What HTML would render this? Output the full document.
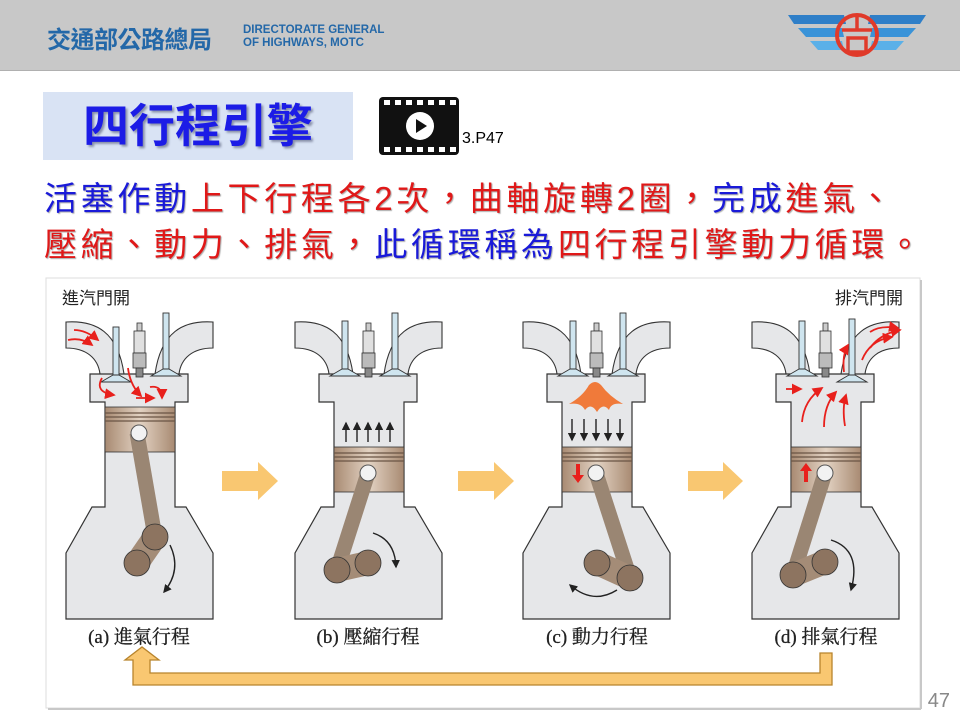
<!DOCTYPE html>
<html><head><meta charset="utf-8"><style>
body{margin:0;width:960px;height:720px;background:#fff;position:relative;overflow:hidden;font-family:"Liberation Sans","Noto Sans CJK TC",sans-serif}
.hdr{position:absolute;left:0;top:0;width:960px;height:70px;background:#c8c8c8;border-bottom:1px solid #b0b0b0}
.t{position:absolute;white-space:nowrap}
</style></head><body>
<div class="hdr"></div>
<div class="t" style="left:47px;top:20px;font-size:24px;font-weight:bold;color:#2468a8;letter-spacing:-0.5px">交通部公路總局</div>
<div class="t" style="left:243px;top:24px;font-size:11.5px;font-weight:bold;color:#2468a8;line-height:13px">DIRECTORATE GENERAL<br>OF HIGHWAYS, MOTC</div>
<svg style="position:absolute;left:780px;top:8px" width="160" height="60">
<g><polygon points="8,7 64,7 66,16 14,16" fill="#2f7fc8"/><polygon points="146,7 90,7 88,16 140,16" fill="#2f7fc8"/>
<polygon points="18,20 62,20 64,29 26,29" fill="#3a93d8"/><polygon points="136,20 92,20 90,29 128,29" fill="#3a93d8"/>
<polygon points="30,33 62,33 64,42 38,42" fill="#5ab0e8"/><polygon points="124,33 92,33 90,42 116,42" fill="#5ab0e8"/></g>
<circle cx="77" cy="27" r="20" fill="none" stroke="#e03a2a" stroke-width="4"/>
<path d="M62,22 H92 M77,8 V22 M68,30 H86 V44 H68 Z" stroke="#e03a2a" stroke-width="3.5" fill="none"/>
</svg>
<div class="t" style="left:43px;top:92px;width:310px;height:68px;background:#d9e3f4"></div>
<div class="t" style="left:43px;top:96px;width:310px;text-align:center;font-size:46px;font-weight:bold;color:#1c1ce6;text-shadow:2px 2px 2px #8890a8;line-height:60px">四行程引擎</div>
<svg style="position:absolute;left:379px;top:97px" width="82" height="60">
<rect x="0" y="0" width="80" height="58" rx="4" fill="#111"/>
<g fill="#fff"><rect x="5" y="3" width="6" height="5"/><rect x="16" y="3" width="6" height="5"/><rect x="27" y="3" width="6" height="5"/><rect x="38" y="3" width="6" height="5"/><rect x="49" y="3" width="6" height="5"/><rect x="60" y="3" width="6" height="5"/><rect x="71" y="3" width="6" height="5"/>
<rect x="5" y="50" width="6" height="5"/><rect x="16" y="50" width="6" height="5"/><rect x="27" y="50" width="6" height="5"/><rect x="38" y="50" width="6" height="5"/><rect x="49" y="50" width="6" height="5"/><rect x="60" y="50" width="6" height="5"/><rect x="71" y="50" width="6" height="5"/></g>
<circle cx="41" cy="29" r="14" fill="#fff"/><polygon points="37,22 37,36 48,29" fill="#111"/>
</svg>
<div class="t" style="left:462px;top:130px;font-size:16px;color:#000">3.P47</div>
<div class="t" style="left:44px;top:176px;font-size:33px;letter-spacing:3.7px;line-height:46px;text-shadow:1px 1px 1px #aaa">
<span style="color:#1a1ad8">活塞作動</span><span style="color:#e01818">上下行程各2次，曲軸旋轉2圈，</span><span style="color:#1a1ad8">完成</span><span style="color:#e01818">進氣、</span><br>
<span style="color:#e01818">壓縮、動力、排氣，</span><span style="color:#1a1ad8">此循環稱為</span><span style="color:#e01818">四行程引擎動力循環。</span></div>

<svg style="position:absolute;left:0;top:0" width="960" height="720">
<defs>
<linearGradient id="pg" x1="0" x2="1"><stop offset="0" stop-color="#a88a72"/><stop offset="0.5" stop-color="#e2d2c2"/><stop offset="1" stop-color="#a88a72"/></linearGradient>
<marker id="ab" markerWidth="6" markerHeight="6" refX="5" refY="3" orient="auto"><path d="M0,0 L6,3 L0,6 Z" fill="#222"/></marker>
<marker id="ar" markerWidth="6" markerHeight="6" refX="5" refY="3" orient="auto"><path d="M0,0 L6,3 L0,6 Z" fill="#e8201c"/></marker>
<g id="eng">
<path d="M0,322 C30,320 52,332 58,374 L34,374 C32,358 20,348 0,348 Z" fill="#e6e7e9" stroke="#333" stroke-width="1.1"/>
<path d="M147,322 C117,320 95,332 89,374 L113,374 C115,358 127,348 147,348 Z" fill="#e6e7e9" stroke="#333" stroke-width="1.1"/>
<path d="M24,374 H122 V402 H109 V507 H120 L147,553 V619 H0 V553 L26,507 H39 V402 H24 Z" fill="#e6e7e9" stroke="#333" stroke-width="1.2"/>
<rect x="71" y="323" width="5" height="8" fill="#ccc" stroke="#333" stroke-width="0.8"/>
<rect x="68" y="331" width="11" height="22" fill="#e0e0e0" stroke="#333" stroke-width="0.8"/>
<rect x="67" y="353" width="13" height="15" fill="#bbb" stroke="#333" stroke-width="0.8"/>
<rect x="70" y="368" width="7" height="9" fill="#888" stroke="#333" stroke-width="0.8"/>
</g>
<g id="vl"><rect x="47" y="321" width="6" height="50" fill="#cfe5ef" stroke="#333" stroke-width="0.9"/><path d="M47,369 L35,376 H65 L53,369 Z" fill="#cfe5ef" stroke="#333" stroke-width="0.9"/></g>
<g id="vr"><rect x="97" y="313" width="6" height="58" fill="#cfe5ef" stroke="#333" stroke-width="0.9"/><path d="M97,369 L85,376 H115 L103,369 Z" fill="#cfe5ef" stroke="#333" stroke-width="0.9"/></g>
</defs>

<rect x="46" y="278" width="874" height="430" fill="#fff" stroke="#ddd"/>
<line x1="921" y1="280" x2="921" y2="709" stroke="#c8c8c8" stroke-width="2"/>
<line x1="48" y1="709" x2="921" y2="709" stroke="#c8c8c8" stroke-width="2"/>

<!-- engine a -->
<g transform="translate(66,0)">
<use href="#eng"/><g transform="translate(0,6)"><use href="#vl"/></g><use href="#vr"/>
<rect x="39" y="407" width="70" height="45" fill="url(#pg)" stroke="#333" stroke-width="0.8"/>
<path d="M39,413 H109 M39,417 H109 M39,421 H109" stroke="#6a5444" stroke-width="1.2"/>
<path d="M71,433 L89,537" stroke="#9a8673" stroke-width="15"/>
<path d="M71,563 L89,537" stroke="#a48c77" stroke-width="24"/>
<circle cx="89" cy="537" r="13" fill="#8d7460" stroke="#333" stroke-width="0.8"/>
<circle cx="71" cy="563" r="13" fill="#8d7460" stroke="#333" stroke-width="0.8"/>
<circle cx="73" cy="433" r="8" fill="#f2f2f2" stroke="#555"/>
<path d="M104,545 Q116,570 98,592" fill="none" stroke="#222" stroke-width="1.4" marker-end="url(#ab)"/>
<g fill="none" stroke="#e8201c" stroke-width="1.8" marker-end="url(#ar)">
<path d="M2,340 Q15,337 26,345"/><path d="M8,330 Q20,330 32,340"/><path d="M36,378 Q28,392 48,395"/><path d="M62,368 Q64,385 75,396"/><path d="M70,398 H88"/><path d="M84,387 Q96,385 96,398"/></g>
</g>
<!-- engine b -->
<g transform="translate(295,0)">
<use href="#eng"/><use href="#vl"/><use href="#vr"/>
<rect x="39" y="447" width="70" height="45" fill="url(#pg)" stroke="#333" stroke-width="0.8"/>
<path d="M39,453 H109 M39,457 H109 M39,461 H109" stroke="#6a5444" stroke-width="1.2"/>
<path d="M73,473 L42,570" stroke="#9a8673" stroke-width="15"/>
<path d="M73,563 L42,570" stroke="#a48c77" stroke-width="24"/>
<circle cx="73" cy="563" r="13" fill="#8d7460" stroke="#333" stroke-width="0.8"/>
<circle cx="42" cy="570" r="13" fill="#8d7460" stroke="#333" stroke-width="0.8"/>
<circle cx="73" cy="473" r="8" fill="#f2f2f2" stroke="#555"/>
<path d="M78,533 Q100,540 101,567" fill="none" stroke="#222" stroke-width="1.4" marker-end="url(#ab)"/>
<g stroke="#222" stroke-width="1.4" marker-end="url(#ab)"><path d="M51,442 V423"/><path d="M62,442 V423"/><path d="M73,442 V423"/><path d="M84,442 V423"/><path d="M95,442 V423"/></g>
</g>
<!-- engine c -->
<g transform="translate(523,0)">
<use href="#eng"/><use href="#vl"/><use href="#vr"/>
<rect x="39" y="447" width="70" height="45" fill="url(#pg)" stroke="#333" stroke-width="0.8"/>
<path d="M39,453 H109 M39,457 H109 M39,461 H109" stroke="#6a5444" stroke-width="1.2"/>
<path d="M73,473 L107,578" stroke="#9a8673" stroke-width="15"/>
<path d="M74,563 L107,578" stroke="#a48c77" stroke-width="24"/>
<circle cx="74" cy="563" r="13" fill="#8d7460" stroke="#333" stroke-width="0.8"/>
<circle cx="107" cy="578" r="13" fill="#8d7460" stroke="#333" stroke-width="0.8"/>
<circle cx="73" cy="473" r="8" fill="#f2f2f2" stroke="#555"/>
<path d="M94,590 Q70,605 47,585" fill="none" stroke="#222" stroke-width="1.4" marker-end="url(#ab)"/>
<path d="M46,404 Q60,396 66,385 Q72,379 78,385 Q86,396 100,404 Q88,402 86,410 Q80,402 74,412 Q68,402 62,410 Q58,402 46,404 Z" fill="#f07a3a"/>
<g stroke="#222" stroke-width="1.4" marker-end="url(#ab)"><path d="M49,419 V440"/><path d="M61,419 V440"/><path d="M73,419 V440"/><path d="M85,419 V440"/><path d="M97,419 V440"/></g>
<path d="M53,464 V475 H49 L55,483 L61,475 H57 V464 Z" fill="#e8201c"/>
</g>
<!-- engine d -->
<g transform="translate(752,0)">
<use href="#eng"/><use href="#vl"/><g transform="translate(0,6)"><use href="#vr"/></g>
<rect x="39" y="447" width="70" height="45" fill="url(#pg)" stroke="#333" stroke-width="0.8"/>
<path d="M39,453 H109 M39,457 H109 M39,461 H109" stroke="#6a5444" stroke-width="1.2"/>
<path d="M73,473 L41,575" stroke="#9a8673" stroke-width="15"/>
<path d="M73,562 L41,575" stroke="#a48c77" stroke-width="24"/>
<circle cx="73" cy="562" r="13" fill="#8d7460" stroke="#333" stroke-width="0.8"/>
<circle cx="41" cy="575" r="13" fill="#8d7460" stroke="#333" stroke-width="0.8"/>
<circle cx="73" cy="473" r="8" fill="#f2f2f2" stroke="#555"/>
<path d="M79,540 Q110,550 99,590" fill="none" stroke="#222" stroke-width="1.4" marker-end="url(#ab)"/>
<path d="M52,482 V471 H48 L54,463 L60,471 H56 V482 Z" fill="#e8201c"/>
<g fill="none" stroke="#e8201c" stroke-width="1.8" marker-end="url(#ar)">
<path d="M34,389 H49"/><path d="M50,422 Q52,400 70,388"/><path d="M72,427 Q72,405 84,392"/><path d="M93,426 Q90,408 94,395"/><path d="M92,372 Q90,355 96,345"/><path d="M110,360 Q118,340 140,337"/><path d="M118,348 Q128,334 148,330"/><path d="M118,332 Q128,325 146,328"/></g>
</g>

<!-- orange step arrows -->
<g fill="#f9c771">
<polygon points="222,471 258,471 258,462 278,481 258,500 258,491 222,491"/>
<polygon points="458,471 494,471 494,462 514,481 494,500 494,491 458,491"/>
<polygon points="688,471 723,471 723,462 743,481 723,500 723,491 688,491"/>
</g>
<polygon points="820,653 832,653 832,685 133,685 133,660 125,660 142,647 159,660 150,660 150,673 820,673" fill="#f9c771" stroke="#b8842c" stroke-width="1.3"/>

<g font-family="Liberation Serif,'Noto Serif CJK SC',serif" font-size="19" fill="#222" text-anchor="middle" stroke="#222" stroke-width="0.3">
<text x="139" y="643">(a) 進氣行程</text><text x="368" y="643">(b) 壓縮行程</text><text x="597" y="643">(c) 動力行程</text><text x="826" y="643">(d) 排氣行程</text>
</g>
<g font-family="'Noto Sans CJK TC',sans-serif" font-size="17" fill="#222">
<text x="62" y="304">進汽門開</text><text x="903" y="304" text-anchor="end">排汽門開</text>
</g>
<text x="950" y="707" font-size="20" fill="#888" text-anchor="end" font-family="Liberation Sans,sans-serif">47</text>
</svg>
</body></html>
